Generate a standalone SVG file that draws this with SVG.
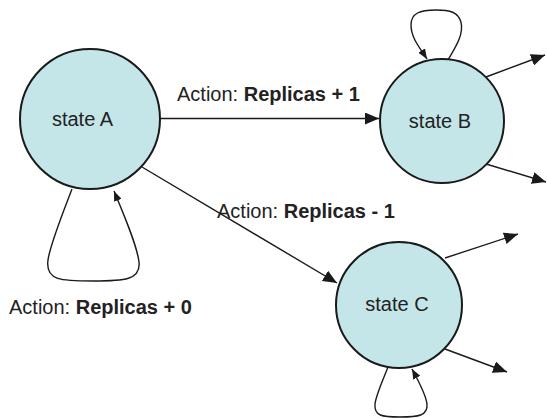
<svg xmlns="http://www.w3.org/2000/svg" width="547" height="419" viewBox="0 0 547 419">
<style>
.st{fill:#c4e6e8;stroke:#1a1a1a;stroke-width:2}
.lb{font-family:"Liberation Sans",Arial,sans-serif;font-size:20px;fill:#222}
.b{font-weight:bold}
.ed{fill:none;stroke:#1a1a1a;stroke-width:1.4}
</style>
<defs>
<marker id="ah" viewBox="0 0 14 12" refX="14" refY="6" markerWidth="14" markerHeight="12" markerUnits="userSpaceOnUse" orient="auto">
<path d="M0,0 L14,6 L0,12 Z" fill="#1a1a1a"/>
</marker>
<marker id="sh" viewBox="0 0 10 8" refX="10" refY="4" markerWidth="10" markerHeight="8" markerUnits="userSpaceOnUse" orient="auto">
<path d="M0,0 L10,4 L0,8 Z" fill="#1a1a1a"/>
</marker>
</defs>
<g id="connectors">
<path class="ed" d="M160,118.5 L379,118.5" marker-end="url(#ah)"/>
<path class="ed" d="M142,167 L337,283" marker-end="url(#ah)"/>
<path class="ed" d="M72,189 C62,215 50,245 48,260 C45,281 62,281 93,281 C124,281 141,280 139,262 C137,245 124,215 114,191" marker-end="url(#sh)"/>
<path class="ed" d="M448,60 C455,48 464,35 461,22 C458,12 450,10 436,10 C420,10 411,13 411,25 C411,38 420,48 427,59" marker-end="url(#sh)"/>
<path class="ed" d="M388,367 C383,380 376,395 375,404 C374,416 382,417 400,417 C418,417 428,416 427,404 C426,395 418,380 412,369" marker-end="url(#sh)"/>
<path class="ed" d="M486,77 L545,55" marker-end="url(#ah)"/>
<path class="ed" d="M486,164 L546,182" marker-end="url(#ah)"/>
<path class="ed" d="M445,258 L518,234" marker-end="url(#ah)"/>
<path class="ed" d="M445,349 L507,372" marker-end="url(#ah)"/>
</g>
<g id="stateA">
<circle class="st" cx="90" cy="119" r="70"/>
<text class="lb" x="82.5" y="126" text-anchor="middle">state A</text>
</g>
<g id="stateB">
<circle class="st" cx="442" cy="121" r="62"/>
<text class="lb" x="440" y="128" text-anchor="middle">state B</text>
</g>
<g id="stateC">
<circle class="st" cx="399" cy="305" r="63"/>
<text class="lb" x="397" y="311" text-anchor="middle">state C</text>
</g>
<g id="labels">
<text class="lb" x="177" y="101">Action: <tspan class="b">Replicas + 1</tspan></text>
<text class="lb" x="217" y="218">Action: <tspan class="b">Replicas - 1</tspan></text>
<text class="lb" x="9" y="314">Action: <tspan class="b">Replicas + 0</tspan></text>
</g>
</svg>
